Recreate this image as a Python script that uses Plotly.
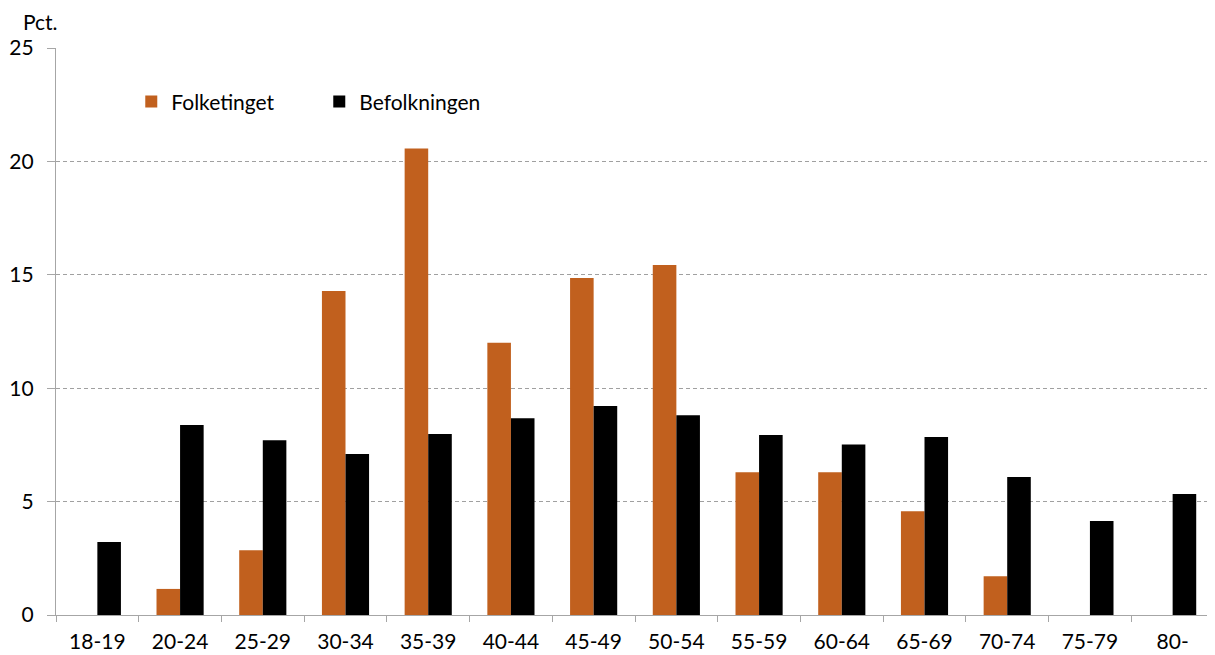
import plotly.graph_objects as go

categories = ["18-19", "20-24", "25-29", "30-34", "35-39", "40-44", "45-49",
              "50-54", "55-59", "60-64", "65-69", "70-74", "75-79", "80-"]
folketinget = [0, 1.15, 2.86, 14.29, 20.57, 12.0, 14.86, 15.43, 6.29, 6.29, 4.57, 1.71, 0, 0]
befolkningen = [3.22, 8.38, 7.71, 7.10, 7.98, 8.68, 9.21, 8.81, 7.94, 7.52, 7.85, 6.08, 4.15, 5.33]

FONT = "Lato, 'Open Sans', sans-serif"
ORANGE = "#C1601E"
FS = 21

fig = go.Figure()
fig.add_trace(go.Bar(x=categories, y=folketinget, name="Folketinget",
                     marker=dict(color=ORANGE, line=dict(width=0))))
fig.add_trace(go.Bar(x=categories, y=befolkningen, name="Befolkningen",
                     marker=dict(color="#000000", line=dict(width=0))))

fig.update_layout(
    width=1207, height=647,
    margin=dict(l=48, r=1, t=40, b=40),
    plot_bgcolor="white", paper_bgcolor="white",
    font=dict(family=FONT, size=FS, color="#000000"),
    barmode="group", bargap=0.43, bargroupgap=0,
    showlegend=True,
    legend=dict(orientation="h", x=0.065, y=0.905, xanchor="left", yanchor="middle",
                font=dict(size=FS), entrywidth=143, entrywidthmode="pixels",
                bgcolor="rgba(0,0,0,0)"),
    xaxis=dict(showline=True, linecolor="#a6a6a6", linewidth=1.3, automargin=False,
               ticks="outside", tickson="boundaries", ticklen=6, tickcolor="#a6a6a6",
               tickfont=dict(size=FS), ticklabelstandoff=8,
               showgrid=False, zeroline=False),
    yaxis=dict(range=[0, 25], tickvals=[0, 5, 10, 15, 20, 25], showline=True,
               automargin=False,
               linecolor="#a6a6a6", linewidth=1.3, ticks="outside", ticklen=8,
               tickcolor="#a6a6a6", tickfont=dict(size=FS), ticklabelstandoff=9,
               showgrid=True, gridcolor="#a0a0a0", griddash="4px,3px", gridwidth=1,
               zeroline=False),
    annotations=[dict(text="Pct.", xref="paper", yref="paper", x=-0.03, y=1.0,
                      xanchor="left", yanchor="bottom", yshift=12, showarrow=False,
                      font=dict(size=FS))],
)

fig.write_html("out.html")
